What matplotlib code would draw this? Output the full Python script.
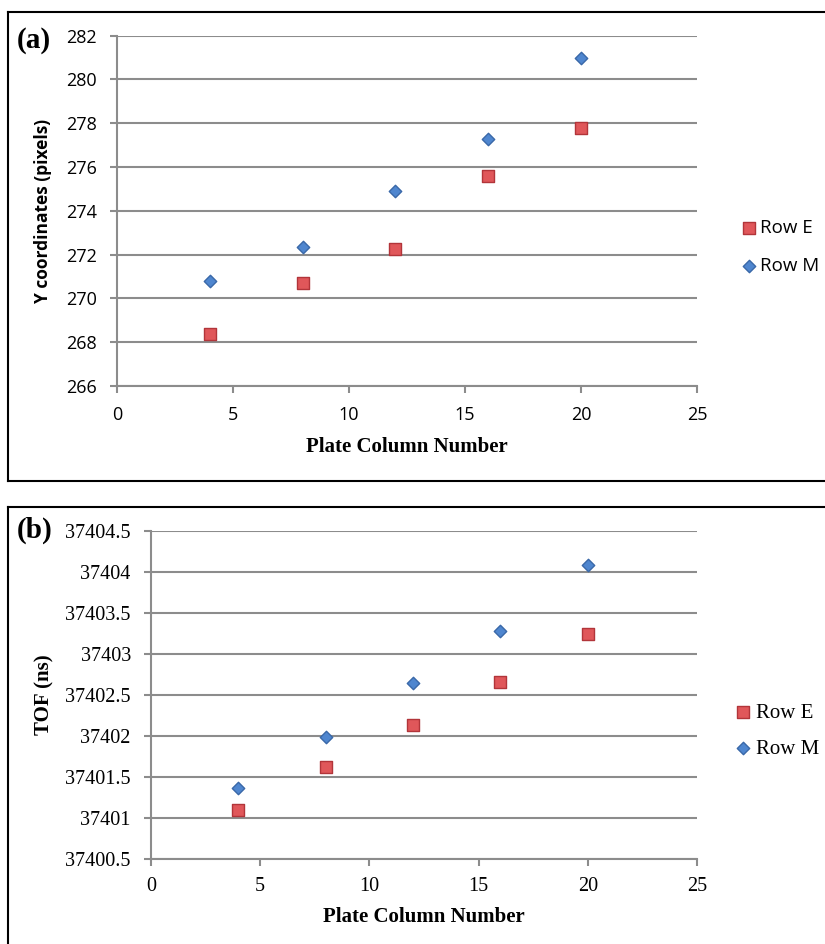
import matplotlib
matplotlib.use("Agg")
import matplotlib.pyplot as plt
from matplotlib.lines import Line2D

columns = [4, 8, 12, 16, 20]
y_row_e = [268.39, 270.69, 272.27, 275.60, 277.80]
y_row_m = [270.80, 272.36, 274.90, 277.28, 281.00]
tof_row_e = [37401.09, 37401.62, 37402.13, 37402.66, 37403.24]
tof_row_m = [37401.36, 37401.99, 37402.65, 37403.28, 37404.08]
series_names = ["Row E", "Row M"]

W, H = 825, 944
fig = plt.figure(figsize=(W / 100, H / 100), dpi=100)

def fx(px):
    return px / W

def fy(py):
    return 1 - py / H

# panel borders
border_kw = dict(color="black", lw=1.5, transform=fig.transFigure)
fig.add_artist(Line2D([fx(8), fx(8)], [fy(12), fy(481.5)], **border_kw))
fig.add_artist(Line2D([fx(8), fx(826)], [fy(12), fy(12)], **border_kw))
fig.add_artist(Line2D([fx(8), fx(826)], [fy(481.5), fy(481.5)], **border_kw))
fig.add_artist(Line2D([fx(8), fx(8)], [fy(507), fy(945)], **border_kw))
fig.add_artist(Line2D([fx(8), fx(826)], [fy(507), fy(507)], **border_kw))

red_fc, red_ec = "#E0575A", "#B2353A"
blue_fc, blue_ec = "#4F86CF", "#3A68A8"
grid_c = "#8C8C8C"

def make_axes(left, right, top, bottom):
    return fig.add_axes([fx(left), fy(bottom), fx(right) - fx(left), fy(top) - fy(bottom)])

def style_axes(ax, tickfont, ticksize, xpad, ypad):
    for s in ["top", "right"]:
        ax.spines[s].set_visible(False)
    for s in ["left", "bottom"]:
        ax.spines[s].set_color(grid_c)
        ax.spines[s].set_linewidth(1.5)
    ax.tick_params(axis="both", direction="out", length=5, width=1.5, color=grid_c,
                   labelsize=ticksize)
    ax.tick_params(axis="x", pad=xpad)
    ax.tick_params(axis="y", pad=ypad)
    ax.yaxis.grid(True, color=grid_c, lw=1.5)
    ax.set_axisbelow(True)
    for lab in ax.get_xticklabels() + ax.get_yticklabels():
        lab.set_fontfamily(tickfont)

sq_s, dm_s = 80, 40

# ---- panel (a)
axa = make_axes(117, 697, 35.7, 386)
axa.scatter(columns, y_row_e, marker="s", s=sq_s, c=red_fc, edgecolors=red_ec, linewidths=1, zorder=3, label=series_names[0])
axa.scatter(columns, y_row_m, marker="D", s=dm_s, c=blue_fc, edgecolors=blue_ec, linewidths=1, zorder=3, label=series_names[1])
axa.set_xlim(0, 25)
axa.set_ylim(266, 282)
axa.set_xticks([0, 5, 10, 15, 20, 25])
axa.set_yticks(range(266, 283, 2))
style_axes(axa, "Open Sans", 13, 9.5, 9.5)
axa.set_xlabel("Plate Column Number", fontfamily="Liberation Serif", fontweight="bold", fontsize=15, labelpad=9)
axa.set_ylabel("Y coordinates (pixels)", fontfamily="Open Sans", fontweight="bold", fontsize=12.5, labelpad=10)
axa.legend(loc="center left", bbox_to_anchor=(1.06, 0.397), frameon=False,
           prop={"family": "Open Sans", "size": 13.5}, handletextpad=0.1, labelspacing=1.1,
           handlelength=1.0, borderaxespad=0)
fig.text(fx(17), fy(40), "(a)", fontfamily="Liberation Serif", fontweight="bold", fontsize=21, va="center", ha="left")

# ---- panel (b)
axb = make_axes(151, 697, 531, 858.7)
axb.scatter(columns, tof_row_e, marker="s", s=sq_s, c=red_fc, edgecolors=red_ec, linewidths=1, zorder=3, label=series_names[0])
axb.scatter(columns, tof_row_m, marker="D", s=dm_s, c=blue_fc, edgecolors=blue_ec, linewidths=1, zorder=3, label=series_names[1])
axb.set_xlim(0, 25)
axb.set_ylim(37400.5, 37404.5)
axb.set_xticks([0, 5, 10, 15, 20, 25])
yt = [37400.5 + 0.5 * i for i in range(9)]
axb.set_yticks(yt)
axb.set_yticklabels([("%g" % v) for v in yt])
style_axes(axb, "Liberation Serif", 14.5, 8, 9.5)
axb.set_xlabel("Plate Column Number", fontfamily="Liberation Serif", fontweight="bold", fontsize=15, labelpad=8)
axb.set_ylabel("TOF (ns)", fontfamily="Liberation Serif", fontweight="bold", fontsize=15, labelpad=8)
axb.legend(loc="center left", bbox_to_anchor=(1.05, 0.39), frameon=False,
           prop={"family": "Liberation Serif", "size": 15}, handletextpad=0.1, labelspacing=0.8,
           handlelength=1.0, borderaxespad=0)
fig.text(fx(17), fy(530), "(b)", fontfamily="Liberation Serif", fontweight="bold", fontsize=21, va="center", ha="left")

fig.savefig("out.png", dpi=100)
